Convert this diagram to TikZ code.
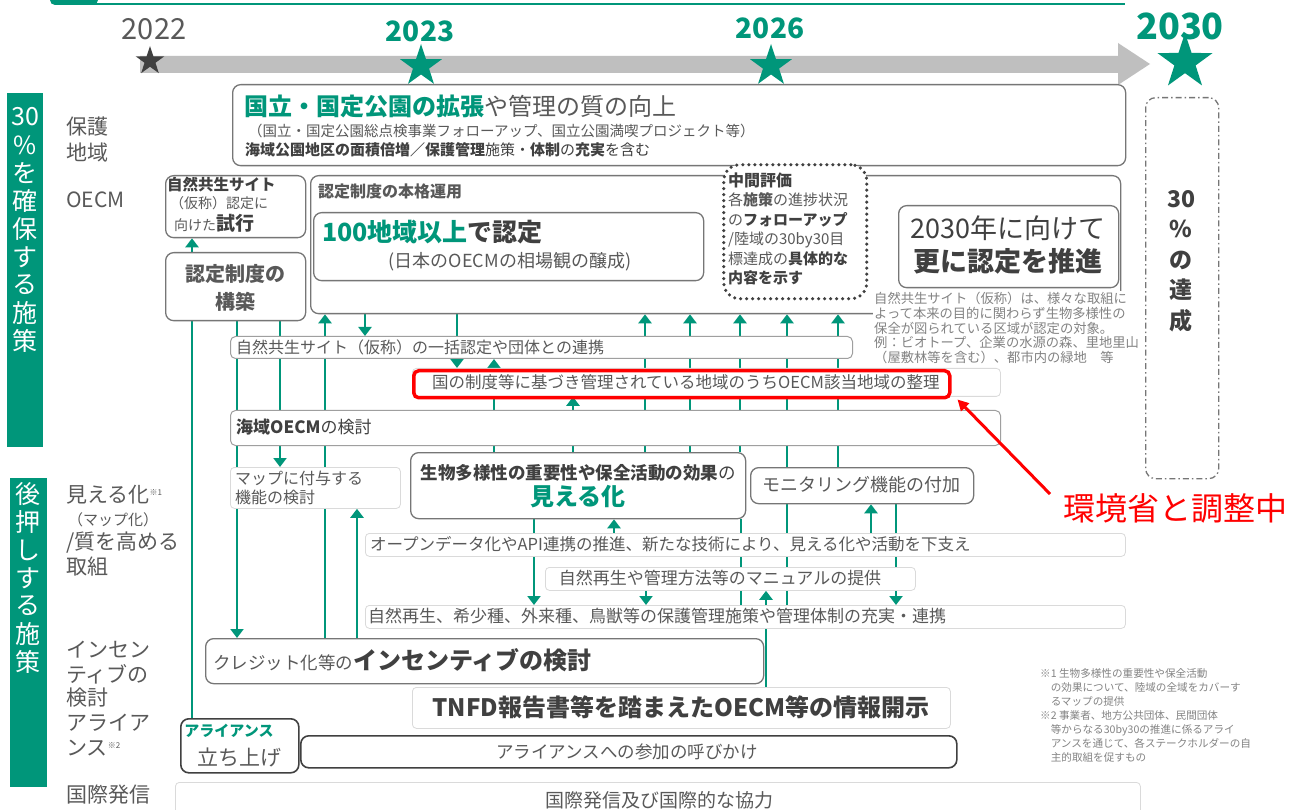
\documentclass[tikz,border=0pt]{standalone}
\usepackage{fontspec}
\setmainfont{Noto Sans CJK JP}
\usetikzlibrary{shapes.geometric,arrows.meta}
\pgfdeclarelayer{bg}\pgfdeclarelayer{lines}\pgfsetlayers{bg,lines,main}
\newcommand\fsz[1]{\fontsize{#1}{#1}\selectfont}
\newcommand\bx[6][box]{\node[#1, minimum width={#5pt-#3pt}, minimum height={#6pt-#4pt}] (#2) at (#3,#4) {};}
\definecolor{tealc}{RGB}{0,150,122}
\definecolor{txtg}{RGB}{89,89,89}
\definecolor{darkg}{RGB}{64,64,64}
\definecolor{boxg}{RGB}{118,118,118}
\definecolor{lightb}{RGB}{218,218,218}
\definecolor{tlgray}{RGB}{191,191,191}
\tikzset{
 box/.style={draw=boxg, line width=1.3pt, rounded corners=8pt, fill=white, inner sep=0pt, anchor=north west},
 mbox/.style={box, draw=boxg!70, line width=1pt, rounded corners=5pt},
 lbox/.style={draw=lightb, line width=0.8pt, rounded corners=4pt, fill=white, inner sep=0pt, anchor=north west},
 dbox/.style={box, draw=darkg, line width=1.6pt},
 dotbox/.style={draw=darkg, line width=3.5pt, dash pattern=on 0pt off 6pt, line cap=round, rounded corners=16pt, fill=white, inner sep=0pt, anchor=north west},
 txt/.style={inner sep=0pt, text=txtg, anchor=west},
 ctxt/.style={inner sep=0pt, text=txtg, anchor=center},
 tline/.style={draw=tealc, line width=2.8pt},
 tarr/.style={tline, -{Triangle[width=13pt,length=9pt]}},
 bartxt/.style={inner sep=0pt, text=white, font=\fsz{25}},
 lab/.style={inner sep=0pt, text=txtg, anchor=west, font=\fsz{21}},
 starn/.style={star, star points=5, star point ratio=2.6, inner sep=0pt, draw=none},
}
\begin{document}
\begin{tikzpicture}[x=1pt,y=-1pt]
\useasboundingbox (0,0) rectangle (1310,810);
\begin{pgfonlayer}{bg}\fill[white] (0,0) rectangle (1310,810);\end{pgfonlayer}
\clip (0,0) rectangle (1310,810);
% header remnant
\fill[tealc, rounded corners=5pt] (50,-12) rectangle (98,5);
\draw[tealc, line width=1.6pt] (90,4) -- (1125,4);
% timeline
\fill[tlgray] (140,56) -- (1118,56) -- (1118,43) -- (1150,64) -- (1118,85) -- (1118,73) -- (140,73) -- cycle;
\node[starn, fill=darkg, minimum size=30pt] (s22) at (150,61) {};
\node[starn, fill=tealc, minimum size=44pt] (s23) at (421,66) {};
\node[starn, fill=tealc, minimum size=44pt] (s26) at (771,66) {};
\node[starn, fill=tealc, minimum size=58pt] (s30) at (1185,62) {};
\node[ctxt, font=\fsz{29}] (y22) at (154,29) {2022};
\node[ctxt, font=\bfseries\fsz{28}, text=tealc] (y23) at (420,31) {2023};
\node[ctxt, font=\bfseries\fsz{28}, text=tealc] (y26) at (770,28) {2026};
\node[ctxt, font=\bfseries\fsz{36}, text=tealc] (y30) at (1180,26) {2030};
% left bars
\node[fill=tealc, anchor=north west, minimum width=36pt, minimum height=354pt, inner sep=0pt] (bar1) at (7,93) {};
\foreach \c [count=\i from 0] in {30,\%,を,確,保,す,る,施,策} \node[bartxt] (ba\i) at (25,{117+28*\i}) {\c};
\node[fill=tealc, anchor=north west, minimum width=37pt, minimum height=309pt, inner sep=0pt] (bar2) at (10,478) {};
\foreach \c [count=\i from 0] in {後,押,し,す,る,施,策} \node[bartxt] (bb\i) at (28,{494+28*\i}) {\c};
% row labels
\node[lab] (l1) at (66,127) {保護};
\node[lab] (l2) at (66,153) {地域};
\node[lab] (l3) at (66,200) {OECM};
\node[lab] (l4) at (66,495) {見える化\raisebox{7pt}{\fsz{8}※1}};
\node[lab, font=\fsz{15}] (l5) at (68,520) {（マップ化）};
\node[lab] (l6) at (66,543) {/質を高める};
\node[lab] (l7) at (66,567) {取組};
\node[lab] (l8) at (66,650) {インセン};
\node[lab] (l9) at (66,674) {ティブの};
\node[lab] (l10) at (66,698) {検討};
\node[lab] (l11) at (66,723) {アライア};
\node[lab] (l12) at (66,748) {ンス\raisebox{7pt}{\fsz{8}※2}};
\node[lab] (l13) at (66,795) {国際発信};
% national parks
\bx{kokuritsu}{232}{84}{1125}{165}
\node[txt, font=\fsz{24}] (k1) at (244,106) {{\bfseries\color{tealc}国立・国定公園の拡張}や管理の質の向上};
\node[txt, font=\fsz{14.5}] (k2) at (248,131) {（国立・国定公園総点検事業フォローアップ、国立公園満喫プロジェクト等）};
\node[txt, font=\fsz{15}, text=darkg] (k3) at (245,150) {\textbf{海域公園地区の面積倍増／保護管理}施策・\textbf{体制}の\textbf{充実}を含む};
\coordinate (ka) at (690,117); \coordinate (kb) at (1108,117);
% OECM trial
\bx{shiko}{165}{175}{305}{237}
\node[txt, font=\bfseries\fsz{15.5}, text=darkg] (sh1) at (167,185) {自然共生サイト};
\node[txt, font=\fsz{14}] (sh2) at (170,203) {（仮称）認定に};
\node[txt, font=\fsz{14}] (sh3) at (174,223) {向けた{\bfseries\fsz{19}\color{darkg}試行}};
\bx{kochiku}{165}{252}{305}{320}
\node[ctxt, font=\bfseries\fontsize{20}{28}\selectfont, align=center] (ko1) at (235,288) {認定制度の\\構築};
% main operation
\bx{honkaku}{310}{175}{1120}{313}
\node[txt, font=\bfseries\fsz{16}] (ho1) at (318,191) {認定制度の本格運用};
\bx{hyaku}{313}{212}{703}{280}
\node[txt, font=\bfseries\fsz{25}, text=darkg] (hy1) at (322,232) {\textcolor{tealc}{100地域以上}\textcolor{darkg}{で認定}};
\node[ctxt, font=\fsz{18}] (hy2) at (510,262) {(日本のOECMの相場観の醸成)};
\node[dotbox, minimum width=143pt, minimum height=134pt] (chukan) at (722,163) {};
\node[txt, font=\bfseries\fsz{16}, text=darkg] (c1) at (728,180) {中間評価};
\node[txt, font=\fsz{15}] (c2) at (728,200) {各\textbf{施策}の進捗状況};
\node[txt, font=\fsz{15}] (c3) at (728,220) {の\textbf{\color{darkg}フォローアップ}};
\node[txt, font=\fsz{15}] (c4) at (728,240) {/陸域の30by30目};
\node[txt, font=\fsz{15}] (c5) at (728,259) {標達成の\textbf{\color{darkg}具体的な}};
\node[txt, font=\bfseries\fsz{15}, text=darkg] (c6) at (728,278) {内容を示す};
\bx{suishin}{898}{205}{1118}{287}
\node[ctxt, font=\fontsize{27}{33}\selectfont, text=darkg, align=center] (su1) at (1008,245) {2030年に向けて\\\textbf{更に認定を推進}};
\node[anchor=north west, fill=white, inner sep=1pt, text=txtg!75, font=\fontsize{13.3}{14.8}\selectfont, align=left] (note) at (873,291) {自然共生サイト（仮称）は、様々な取組に\\よって本来の目的に関わらず生物多様性の\\保全が図られている区域が認定の対象。\\例：ビオトープ、企業の水源の森、里地里山\\（屋敷林等を含む）、都市内の緑地　等};
% 30% achievement
\node[draw=boxg, dash pattern=on 6pt off 3pt on 1.5pt off 3pt, line width=1.3pt, rounded corners=10pt, anchor=north west, minimum width=73pt, minimum height=381pt, inner sep=0pt] (tassei) at (1145,97) {};
\node[ctxt, font=\bfseries\fontsize{23}{30.5}\selectfont, text=darkg, align=center] (ta1) at (1181,261) {30\\\%\\の\\達\\成};
% rows
\bx[mbox]{ikkatsu}{230}{336}{852}{358}
\node[txt, font=\fsz{16}] (ik1) at (236,347) {自然共生サイト（仮称）の一括認定や団体との連携};
\bx[lbox]{kuni}{412}{368}{1000}{396}
\node[txt, font=\fsz{16.5}] (ku1) at (432,382) {国の制度等に基づき管理されている地域のうちOECM該当地域の整理};
\node[draw=red, line width=3.5pt, rounded corners=5pt, anchor=north west, minimum width=536pt, minimum height=27pt, inner sep=0pt] (redbox) at (412,369) {};
\bx[mbox]{kaiiki}{230}{410}{1000}{445}
\node[txt, font=\fsz{17}, text=darkg] (ka1) at (236,427) {\textbf{海域OECM}の検討};
\bx[lbox]{map}{230}{467}{400}{508}
\node[txt, font=\fontsize{16}{19}\selectfont, align=left] (ma1) at (235,488) {マップに付与する\\機能の検討};
\bx{mieruka}{410}{452}{745}{518}
\node[ctxt, font=\bfseries\fsz{17.5}, text=darkg] (mi1) at (578,473) {生物多様性の重要性や保全活動の効果\mdseries の};
\node[ctxt, font=\bfseries\fsz{24}, text=tealc] (mi2) at (578,497) {見える化};
\bx{monitor}{750}{467}{973}{503}
\node[ctxt, font=\fsz{18}] (mo1) at (861,485) {モニタリング機能の付加};
\bx[lbox]{open}{365}{533}{1125}{556}
\node[txt, font=\fsz{16.5}] (op1) at (370,544) {オープンデータ化やAPI連携の推進、新たな技術により、見える化や活動を下支え};
\bx[lbox]{manual}{545}{567}{915}{590}
\node[ctxt, font=\fsz{17}] (mn1) at (720,578) {自然再生や管理方法等のマニュアルの提供};
\bx[lbox]{kisho}{365}{605}{1125}{628}
\node[txt, font=\fsz{17}] (ki1) at (368,616) {自然再生、希少種、外来種、鳥獣等の保護管理施策や管理体制の充実・連携};
\bx{credit}{205}{638}{763}{683}
\node[txt, font=\fsz{17.5}] (cr1) at (213,660) {クレジット化等の{\bfseries\fsz{24}\color{darkg}インセンティブの検討}};
\bx[lbox]{tnfd}{412}{687}{950}{728}
\node[ctxt, font=\bfseries\fsz{24}, text=darkg] (tn1) at (681,707) {TNFD報告書等を踏まえたOECM等の情報開示};
\bx[dbox]{allst}{180}{718}{298}{772}
\node[ctxt, font=\bfseries\fsz{15}, text=tealc] (al1) at (229,731) {アライアンス};
\node[ctxt, font=\fsz{21}] (al2) at (239,757) {立ち上げ};
\bx[dbox]{allcall}{300}{735}{956}{767}
\node[ctxt, font=\fsz{17.5}] (ac1) at (627,752) {アライアンスへの参加の呼びかけ};
\bx[lbox]{intl}{175}{782}{1140}{830}
\node[ctxt, font=\fsz{19}] (in1) at (659,800) {国際発信及び国際的な協力};
% footnotes
\node[anchor=north west, inner sep=0pt, text=txtg!75, font=\fontsize{10.6}{14}\selectfont, align=left] (foot) at (1040,668) {※1 生物多様性の重要性や保全活動\\　の効果について、陸域の全域をカバーす\\　るマップの提供\\※2 事業者、地方公共団体、民間団体\\　等からなる30by30の推進に係るアライ\\　アンスを通じて、各ステークホルダーの自\\　主的取組を促すもの};
% red annotation
\node[txt, text=red, font=\fsz{32}] (chosei) at (1063,508) {環境省と調整中};
\coordinate (redst) at (1050,494);
\draw[red, line width=3pt, -{Triangle[width=11pt,length=11pt]}] (redst) -- ([xshift=6pt]redbox.south east);
% connectors
\begin{pgfonlayer}{lines}
\draw[tarr] (ka) -- (kb);
\draw[tline] (hyaku.east) -- (chukan.west |- hyaku.east);
\draw[tarr] (chukan.east |- hyaku.east) -- (suishin.west |- hyaku.east);
\draw[tarr] (192,0 |- kochiku.north) -- (192,0 |- shiko.south);
\draw[tline] (192,0 |- kochiku.south) -- (192,0 |- allst.north);
\draw[tarr] (237,0 |- kochiku.south) -- (237,0 |- credit.north);
\draw[tarr] (280,0 |- kochiku.south) -- (280,0 |- map.north);
\draw[tarr] (325,0 |- credit.north) -- (325,0 |- honkaku.south);
\draw[tarr] (357,0 |- credit.north) -- (357,0 |- map.south);
\draw[tarr] (365,0 |- honkaku.south) -- (365,0 |- ikkatsu.north);
\draw[tarr] (457,0 |- honkaku.south) -- (457,0 |- kuni.north);
\draw[tarr] (494,0 |- mieruka.north) -- (494,0 |- ikkatsu.south);
\draw[tarr] (573,0 |- mieruka.north) -- (573,0 |- kuni.south);
\foreach \x in {645,690,740} \draw[tarr] (\x,0 |- mieruka.north) -- (\x,0 |- honkaku.south);
\draw[tarr] (787,0 |- kisho.north) -- (787,0 |- honkaku.south);
\draw[tarr] (838,0 |- monitor.north) -- (838,0 |- honkaku.south);
\draw[tarr] (534,0 |- mieruka.south) -- (534,0 |- kisho.north);
\draw[tarr] (614,0 |- open.north) -- (614,0 |- mieruka.south);
\draw[tline] (741,0 |- mieruka.south) -- (741,0 |- kisho.north);
\draw[tarr] (646,0 |- manual.south) -- (646,0 |- kisho.north);
\draw[tarr] (766,0 |- tnfd.north) -- (766,0 |- manual.south);
\draw[tarr] (871,0 |- open.north) -- (871,0 |- monitor.south);
\draw[tarr] (896,0 |- monitor.south) -- (896,0 |- kisho.north);
\end{pgfonlayer}
\end{tikzpicture}
\end{document}
